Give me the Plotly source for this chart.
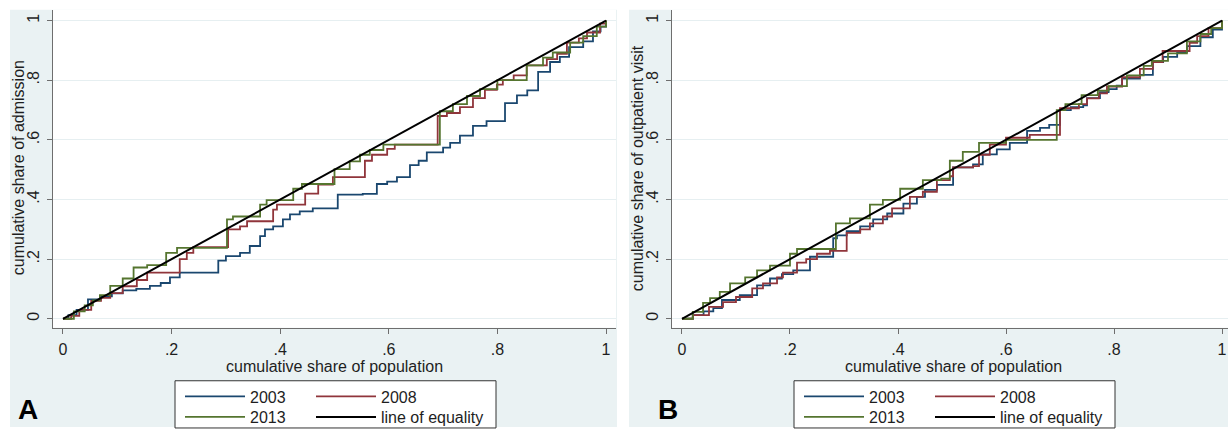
import plotly.graph_objects as go

# ---------------- data ----------------
tick_vals = [0, 0.2, 0.4, 0.6, 0.8, 1.0]
tick_text = ["0", ".2", ".4", ".6", ".8", "1"]

# Panel A: admission
a2003_x = [0, 0.01, 0.025, 0.046, 0.07, 0.09, 0.11, 0.135, 0.16, 0.18, 0.197, 0.215, 0.286, 0.30, 0.326, 0.344,
           0.363, 0.372, 0.387, 0.405, 0.418, 0.436, 0.46, 0.506, 0.552, 0.578, 0.597, 0.615, 0.639, 0.655, 0.67,
           0.70, 0.713, 0.731, 0.755, 0.78, 0.814, 0.836, 0.855, 0.875, 0.897, 0.915, 0.932, 0.958, 0.976, 0.99, 1.0]
a2003_y = [0, 0.012, 0.03, 0.065, 0.075, 0.085, 0.095, 0.10, 0.11, 0.12, 0.139, 0.155, 0.195, 0.21, 0.221, 0.244,
           0.277, 0.30, 0.31, 0.333, 0.35, 0.36, 0.37, 0.416, 0.419, 0.452, 0.46, 0.475, 0.515, 0.53, 0.558,
           0.574, 0.59, 0.614, 0.647, 0.663, 0.723, 0.749, 0.766, 0.828, 0.861, 0.878, 0.911, 0.93, 0.964, 0.98, 1.0]

a2008_x = [0, 0.015, 0.03, 0.052, 0.07, 0.087, 0.11, 0.136, 0.155, 0.215, 0.228, 0.24, 0.304, 0.326, 0.339, 0.387,
           0.394, 0.446, 0.47, 0.497, 0.556, 0.569, 0.597, 0.611, 0.69, 0.707, 0.731, 0.755, 0.777, 0.799, 0.81,
           0.83, 0.854, 0.891, 0.91, 0.928, 0.95, 0.965, 0.989, 1.0]
a2008_y = [0, 0.01, 0.03, 0.06, 0.07, 0.086, 0.109, 0.13, 0.155, 0.20, 0.221, 0.24, 0.30, 0.31, 0.327, 0.366,
           0.383, 0.42, 0.45, 0.475, 0.53, 0.55, 0.57, 0.584, 0.68, 0.69, 0.71, 0.74, 0.768, 0.785, 0.80,
           0.816, 0.85, 0.871, 0.888, 0.926, 0.94, 0.96, 0.99, 1.0]

a2013_x = [0, 0.02, 0.04, 0.055, 0.068, 0.087, 0.11, 0.13, 0.155, 0.19, 0.21, 0.302, 0.313, 0.363, 0.375, 0.424,
           0.44, 0.50, 0.528, 0.547, 0.565, 0.59, 0.694, 0.718, 0.744, 0.768, 0.80, 0.854, 0.884, 0.902, 0.934,
           0.958, 0.983, 1.0]
a2013_y = [0, 0.025, 0.045, 0.062, 0.079, 0.11, 0.135, 0.172, 0.18, 0.221, 0.238, 0.333, 0.343, 0.383, 0.398, 0.436,
           0.452, 0.502, 0.528, 0.55, 0.566, 0.584, 0.696, 0.72, 0.747, 0.77, 0.80, 0.85, 0.876, 0.893, 0.926,
           0.948, 0.98, 1.0]

# Panel B: outpatient visit
b2003_x = [0, 0.02, 0.04, 0.058, 0.074, 0.107, 0.139, 0.163, 0.185, 0.206, 0.237, 0.28, 0.287, 0.305, 0.33, 0.354,
           0.38, 0.41, 0.435, 0.45, 0.472, 0.502, 0.539, 0.557, 0.583, 0.607, 0.639, 0.663, 0.68, 0.70, 0.72,
           0.743, 0.75, 0.774, 0.79, 0.805, 0.815, 0.848, 0.872, 0.891, 0.917, 0.935, 0.96, 0.983, 1.0]
b2003_y = [0, 0.012, 0.025, 0.036, 0.063, 0.079, 0.112, 0.135, 0.15, 0.162, 0.208, 0.27, 0.28, 0.294, 0.31, 0.333,
           0.353, 0.386, 0.409, 0.432, 0.449, 0.508, 0.518, 0.551, 0.568, 0.59, 0.63, 0.64, 0.65, 0.70, 0.71,
           0.716, 0.74, 0.76, 0.77, 0.782, 0.805, 0.818, 0.861, 0.878, 0.894, 0.914, 0.944, 0.97, 1.0]

b2008_x = [0, 0.02, 0.05, 0.076, 0.10, 0.13, 0.15, 0.176, 0.187, 0.213, 0.23, 0.25, 0.274, 0.305, 0.33, 0.348,
           0.372, 0.389, 0.422, 0.446, 0.472, 0.496, 0.502, 0.539, 0.55, 0.57, 0.60, 0.644, 0.70, 0.735, 0.75,
           0.772, 0.787, 0.815, 0.848, 0.872, 0.89, 0.94, 0.954, 0.975, 1.0]
b2008_y = [0, 0.012, 0.04, 0.056, 0.073, 0.102, 0.119, 0.139, 0.155, 0.188, 0.20, 0.218, 0.228, 0.288, 0.30, 0.32,
           0.343, 0.37, 0.409, 0.426, 0.465, 0.478, 0.508, 0.512, 0.55, 0.584, 0.607, 0.617, 0.706, 0.72, 0.739,
           0.756, 0.779, 0.81, 0.838, 0.861, 0.898, 0.925, 0.948, 0.975, 1.0]

b2013_x = [0, 0.02, 0.039, 0.052, 0.07, 0.089, 0.117, 0.139, 0.163, 0.20, 0.213, 0.285, 0.311, 0.348, 0.372, 0.404,
           0.446, 0.48, 0.496, 0.52, 0.55, 0.60, 0.694, 0.71, 0.74, 0.77, 0.79, 0.824, 0.855, 0.87, 0.90,
           0.935, 0.96, 0.98, 1.0]
b2013_y = [0, 0.023, 0.053, 0.069, 0.09, 0.119, 0.139, 0.162, 0.178, 0.218, 0.234, 0.32, 0.337, 0.383, 0.399, 0.436,
           0.465, 0.47, 0.53, 0.56, 0.59, 0.60, 0.70, 0.72, 0.75, 0.765, 0.78, 0.816, 0.848, 0.865, 0.89,
           0.93, 0.955, 0.975, 1.0]

equality = [0, 1]

series_names = ["2003", "2008", "2013", "line of equality"]
colors = ["#1a476f", "#90353b", "#55752f", "#000000"]
panel_letters = ["A", "B"]
y_titles = ["cumulative share of admission", "cumulative share of outpatient visit"]
x_title = "cumulative share of population"

# ---------------- figure ----------------
W, H = 1228, 434
FONT = "Liberation Sans, Arial, sans-serif"
TXT = "#1e1e1e"
BG = "#eaf2f3"
FS = 16


def px_x(v):
    return v / W


def px_y(v):
    return 1 - v / H


fig = go.Figure()

# legend slot layout: per series (col, row)
legend_slots = [(0, 0), (1, 0), (0, 1), (1, 1)]
panel_offsets = [0, 619]
col_x = [180, 311]
row_y = [403, 424]

panels = [
    dict(xs=[a2003_x, a2008_x, a2013_x], ys=[a2003_y, a2008_y, a2013_y], xa="x", ya="y"),
    dict(xs=[b2003_x, b2008_x, b2013_x], ys=[b2003_y, b2008_y, b2013_y], xa="x2", ya="y2"),
]

legends = {}
leg_common = dict(orientation="h", xanchor="left", yanchor="middle", bgcolor="rgba(0,0,0,0)",
                  borderwidth=0, font=dict(size=FS, color=TXT, family=FONT), itemwidth=60,
                  itemclick=False, itemdoubleclick=False)

leg_idx = 0
for k, p in enumerate(panels):
    xs = p["xs"] + [equality]
    ys = p["ys"] + [equality]
    for i in range(4):
        leg_idx += 1
        lname = "legend" if leg_idx == 1 else "legend%d" % leg_idx
        c, r = legend_slots[i]
        legends[lname] = dict(leg_common, x=px_x(col_x[c] + panel_offsets[k]), y=px_y(row_y[r]))
        fig.add_trace(go.Scatter(
            x=xs[i], y=ys[i], mode="lines", line_shape="hv" if i < 3 else "linear",
            line=dict(color=colors[i], width=1.8 if i < 3 else 2.0), name=series_names[i],
            xaxis=p["xa"], yaxis=p["ya"], legend=lname))

x_doms = [[px_x(53), px_x(616)], [px_x(672), px_x(1228)]]
x_ranges = [[-0.0184, 1.0184], [-0.0185, 1.0111]]
y_dom = [px_y(333), px_y(10)]
y_range = [-0.0297, 1.036]

axis_common = dict(showline=True, linecolor="#6e6e6e", linewidth=1, ticks="outside", ticklen=5,
                   tickcolor="#6e6e6e", tickvals=tick_vals, ticktext=tick_text, zeroline=False,
                   ticklabeloverflow="allow",
                   tickfont=dict(size=FS, color=TXT, family=FONT))

layout_axes = {}
for k, suffix in enumerate(["", "2"]):
    layout_axes["xaxis" + suffix] = dict(
        axis_common, domain=x_doms[k], range=x_ranges[k], showgrid=False,
        anchor="y" + suffix, ticklabelstandoff=2)
    layout_axes["yaxis" + suffix] = dict(
        axis_common, domain=y_dom, range=y_range, showgrid=True, gridcolor="#e6eff1", gridwidth=1,
        tickangle=-90, anchor="x" + suffix, ticklabelstandoff=2)

shapes = [
    dict(type="rect", xref="paper", yref="paper", x0=px_x(10), x1=px_x(617), y0=0, y1=px_y(10),
         fillcolor=BG, line=dict(width=0), layer="below"),
    dict(type="rect", xref="paper", yref="paper", x0=px_x(629), x1=1.0, y0=0, y1=px_y(10),
         fillcolor=BG, line=dict(width=0), layer="below"),
]
for k in range(2):
    shapes.append(dict(type="rect", xref="paper", yref="paper", x0=x_doms[k][0], x1=x_doms[k][1],
                       y0=y_dom[0], y1=y_dom[1], fillcolor="white", line=dict(width=0), layer="below"))
for off in panel_offsets:
    L = 175 + off
    shapes.append(dict(type="rect", xref="paper", yref="paper", x0=px_x(L), x1=px_x(L + 321),
                       y0=px_y(435), y1=px_y(387), fillcolor="white",
                       line=dict(color="#333333", width=1), layer="below"))

annotations = []
for k, (letter, xp) in enumerate(zip(panel_letters, [28, 668])):
    annotations.append(dict(text="<b>%s</b>" % letter, xref="paper", yref="paper", x=px_x(xp), y=0,
                            xanchor="center", yanchor="bottom", showarrow=False,
                            font=dict(size=28, color="#000000", family=FONT)))
    # axis titles
    annotations.append(dict(text=x_title, xref="paper", yref="paper",
                            x=px_x(334 + panel_offsets[k]), y=px_y(373),
                            xanchor="center", yanchor="middle", showarrow=False,
                            font=dict(size=FS, color=TXT, family=FONT)))
    annotations.append(dict(text=y_titles[k], xref="paper", yref="paper", textangle=-90,
                            x=px_x(18 + panel_offsets[k]), y=px_y(171),
                            xanchor="center", yanchor="middle", showarrow=False,
                            font=dict(size=FS, color=TXT, family=FONT)))

fig.update_layout(
    width=W, height=H, margin=dict(l=0, r=0, t=0, b=0),
    paper_bgcolor="white", plot_bgcolor="white",
    font=dict(family=FONT, color=TXT),
    shapes=shapes, annotations=annotations, showlegend=True,
    **layout_axes, **legends,
)

fig.write_html(
    "out.html",
    config={"displayModeBar": False},
    post_script=("document.documentElement.style.margin='0px';"
                 "document.body.style.margin='0px';document.body.style.padding='0px';"
                 "document.documentElement.style.overflow='hidden';document.body.style.overflow='hidden';"),
)
